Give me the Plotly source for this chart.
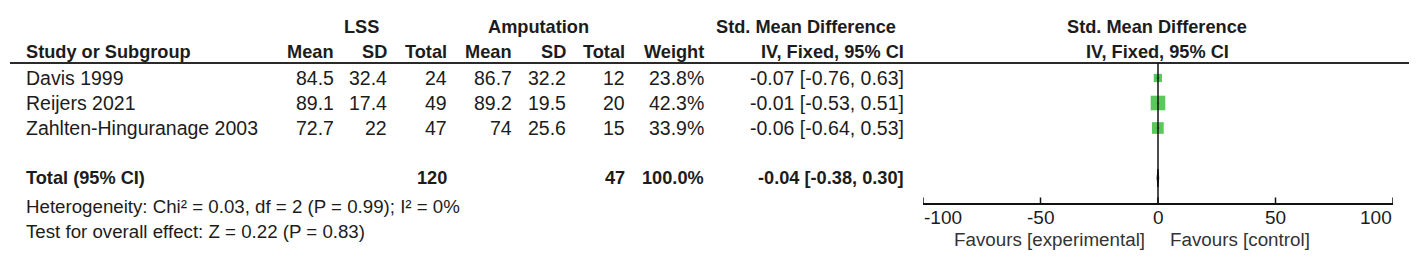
import plotly.graph_objects as go

# ---------------- data ----------------
studies = ["Davis 1999", "Reijers 2021", "Zahlten-Hinguranage 2003"]
lss_mean = [84.5, 89.1, 72.7]
lss_sd = [32.4, 17.4, 22]
lss_n = [24, 49, 47]
amp_mean = [86.7, 89.2, 74]
amp_sd = [32.2, 19.5, 25.6]
amp_n = [12, 20, 15]
weight = [23.8, 42.3, 33.9]
smd = [-0.07, -0.01, -0.06]
ci_lo = [-0.76, -0.53, -0.64]
ci_hi = [0.63, 0.51, 0.53]

total_label = "Total (95% CI)"
total_lss_n = 120
total_amp_n = 47
total_weight = 100.0
total_smd = -0.04
total_lo = -0.38
total_hi = 0.30

heterogeneity = "Heterogeneity: Chi² = 0.03, df = 2 (P = 0.99); I² = 0%"
overall = "Test for overall effect: Z = 0.22 (P = 0.83)"

tick_vals = [-100, -50, 0, 50, 100]
tick_text = ["-100", "-50", "0", "50", "100"]
fav_left = "Favours [experimental]"
fav_right = "Favours [control]"

# ---------------- layout constants ----------------
OFF = 8                      # default page body margin
W, H = 1417 - OFF, 256 - OFF
FONT = "Liberation Sans, Arial, sans-serif"
TXT = "#1c1c1c"
FS = 19.5
FSB = 18.2
FS_NOTE = 18.7
GREEN = "#12b412"

rows = list(range(len(studies)))
total_row = 4


def px(x):
    """window pixel x -> paper fraction"""
    return (x - OFF) / W


def py(y):
    """window pixel y (from top) -> paper fraction"""
    return 1 - (y - OFF) / H


fig = go.Figure()

# study squares with CI whiskers
fig.add_trace(go.Scatter(
    x=smd, y=rows, mode="markers",
    marker=dict(symbol="square", size=[w * 0.345 for w in weight], color=GREEN,
                line=dict(width=0)),
    error_x=dict(type="data", symmetric=False,
                 array=[h - s for h, s in zip(ci_hi, smd)],
                 arrayminus=[s - l for s, l in zip(smd, ci_lo)],
                 color="black", thickness=1, width=0),
    hoverinfo="skip"))

# total diamond
fig.add_trace(go.Scatter(
    x=[total_lo, total_smd, total_hi, total_smd, total_lo],
    y=[total_row, total_row - 0.36, total_row, total_row + 0.36, total_row],
    mode="lines", fill="toself", fillcolor="black",
    line=dict(color="black", width=1), hoverinfo="skip"))

shapes = []
# header rule
shapes.append(dict(type="line", xref="paper", yref="y domain",
                   x0=px(10), x1=px(1410), y0=1, y1=1,
                   line=dict(color="#2a2a2a", width=2)))
# line of no effect
shapes.append(dict(type="line", xref="x", yref="y domain",
                   x0=0, x1=0, y0=0, y1=1,
                   line=dict(color="#111", width=1.5)))
# axis ticks crossing the axis line
for t in tick_vals:
    shapes.append(dict(type="line", xref="x", yref="y",
                       x0=t, x1=t, y0=4.78, y1=5.22,
                       line=dict(color="#111", width=1.5)))

ann = []


def add_text(text, x, y, anchor="right", bold=False, yref="y", xref="paper", color=TXT, size=None):
    if size is None:
        size = FSB if bold else FS
    ann.append(dict(text=f"<b>{text}</b>" if bold else text, x=x, y=y,
                    xref=xref, yref=yref, xanchor=anchor, yanchor="middle",
                    showarrow=False, borderpad=0,
                    font=dict(family=FONT, size=size, color=color)))


def fmt(v):
    return f"{v:g}"


# column right edges (window px)
col_mean1, col_sd1, col_n1 = 335, 388, 448
col_mean2, col_sd2, col_n2 = 513, 567, 626
col_w, col_ci = 705, 905
col_name = 25

hdr1 = py(27)
hdr2 = py(52)

# header row 1
add_text("LSS", px(361), hdr1, anchor="center", bold=True, yref="paper")
add_text("Amputation", px(538), hdr1, anchor="center", bold=True, yref="paper")
add_text("Std. Mean Difference", px(806), hdr1, anchor="center", bold=True, yref="paper")
add_text("Std. Mean Difference", px(1157), hdr1, anchor="center", bold=True, yref="paper")
# header row 2
add_text("Study or Subgroup", px(col_name), hdr2, anchor="left", bold=True, yref="paper")
for lab, c in [("Mean", col_mean1), ("SD", col_sd1), ("Total", col_n1),
               ("Mean", col_mean2), ("SD", col_sd2), ("Total", col_n2),
               ("Weight", col_w), ("IV, Fixed, 95% CI", col_ci)]:
    add_text(lab, px(c), hdr2, bold=True, yref="paper")
add_text("IV, Fixed, 95% CI", px(1157), hdr2, anchor="center", bold=True, yref="paper")

# study rows
for i, r in enumerate(rows):
    add_text(studies[i], px(col_name), r, anchor="left")
    add_text(fmt(lss_mean[i]), px(col_mean1), r)
    add_text(fmt(lss_sd[i]), px(col_sd1), r)
    add_text(str(lss_n[i]), px(col_n1), r)
    add_text(fmt(amp_mean[i]), px(col_mean2), r)
    add_text(fmt(amp_sd[i]), px(col_sd2), r)
    add_text(str(amp_n[i]), px(col_n2), r)
    add_text(f"{weight[i]:.1f}%", px(col_w), r)
    add_text(f"{smd[i]:.2f} [{ci_lo[i]:.2f}, {ci_hi[i]:.2f}]", px(col_ci), r)

# total row
add_text(total_label, px(col_name), total_row, anchor="left", bold=True)
add_text(str(total_lss_n), px(col_n1), total_row, bold=True)
add_text(str(total_amp_n), px(col_n2), total_row, bold=True)
add_text(f"{total_weight:.1f}%", px(col_w), total_row, bold=True)
add_text(f"{total_smd:.2f} [{total_lo:.2f}, {total_hi:.2f}]", px(col_ci), total_row, bold=True)

# footnotes
add_text(heterogeneity, px(col_name), py(206), anchor="left", yref="paper", size=FS_NOTE)
add_text(overall, px(col_name), py(231), anchor="left", yref="paper", size=FS_NOTE)

# axis tick labels (end labels kept inside the axis span, as in the source)
for k, (t, lab) in enumerate(zip(tick_vals, tick_text)):
    anchor = "left" if k == 0 else ("right" if k == len(tick_vals) - 1 else "center")
    add_text(lab, t, py(217), anchor=anchor, xref="x", yref="paper", size=19)

# favours labels
add_text(fav_left, -5.1, py(239), anchor="right", xref="x", yref="paper", color="#333", size=18.8)
add_text(fav_right, 4.7, py(239), anchor="left", xref="x", yref="paper", color="#333", size=18.8)

fig.update_layout(
    width=W, height=H, margin=dict(l=0, r=0, t=0, b=0, autoexpand=False),
    paper_bgcolor="white", plot_bgcolor="white", showlegend=False,
    shapes=shapes, annotations=ann,
    xaxis=dict(domain=[px(923), px(1393)], range=[-100, 100],
               tickvals=tick_vals, showticklabels=False,
               showline=True, linecolor="#111", linewidth=1.5,
               ticks="", showgrid=False, zeroline=False, fixedrange=True,
               automargin=False),
    yaxis=dict(domain=[py(203), py(63)], range=[5.0, -0.6], visible=False,
               fixedrange=True, automargin=False),
)

fig.write_html("out.html")
